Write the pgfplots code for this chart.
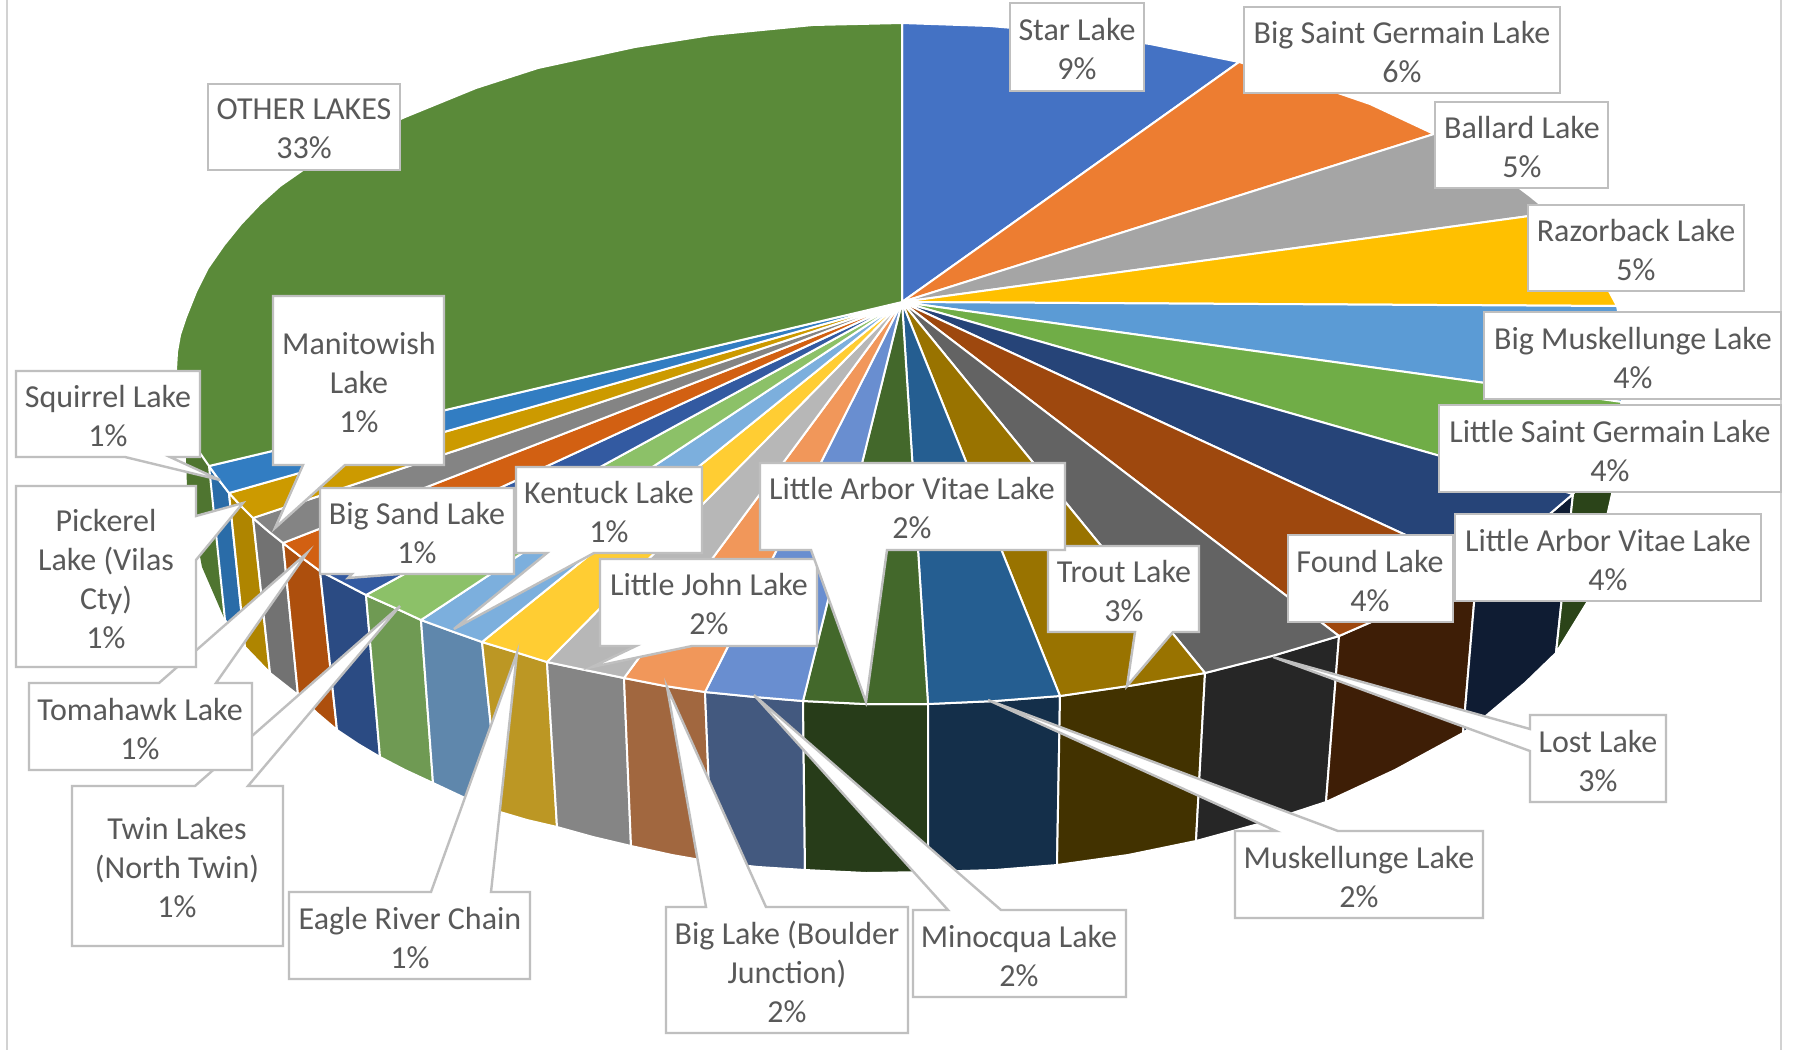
\documentclass[border=0pt]{standalone}
\usepackage{fontspec}
\setmainfont{Carlito}
\usepackage{pgfplots}
\pgfplotsset{compat=1.18}

% top faces
\definecolor{tA}{HTML}{4472C4}
\definecolor{tB}{HTML}{ED7D31}
\definecolor{tC}{HTML}{A5A5A5}
\definecolor{tD}{HTML}{FFC000}
\definecolor{tE}{HTML}{5B9BD5}
\definecolor{tF}{HTML}{70AD47}
\definecolor{tG}{HTML}{264478}
\definecolor{tH}{HTML}{9E480E}
\definecolor{tI}{HTML}{636363}
\definecolor{tJ}{HTML}{997300}
\definecolor{tK}{HTML}{255E91}
\definecolor{tL}{HTML}{43682B}
\definecolor{tM}{HTML}{698ED0}
\definecolor{tN}{HTML}{F1975A}
\definecolor{tO}{HTML}{B7B7B7}
\definecolor{tP}{HTML}{FFCD33}
\definecolor{tQ}{HTML}{7CAFDD}
\definecolor{tR}{HTML}{8CC168}
\definecolor{tS}{HTML}{335AA1}
\definecolor{tT}{HTML}{D26012}
\definecolor{tU}{HTML}{848484}
\definecolor{tV}{HTML}{CC9A00}
\definecolor{tW}{HTML}{327DC2}
\definecolor{tX}{HTML}{5A8A39}
% side walls
\definecolor{wX}{HTML}{4F7530}
\definecolor{wXr}{HTML}{2B4419}
\definecolor{wW}{HTML}{2A6CA8}
\definecolor{wV}{HTML}{AF8500}
\definecolor{wU}{HTML}{727272}
\definecolor{wT}{HTML}{AD4F0D}
\definecolor{wS}{HTML}{2B4B83}
\definecolor{wR}{HTML}{6F9A53}
\definecolor{wQ}{HTML}{5F87AC}
\definecolor{wP}{HTML}{BC9724}
\definecolor{wO}{HTML}{858585}
\definecolor{wN}{HTML}{A1673F}
\definecolor{wM}{HTML}{43597F}
\definecolor{wL}{HTML}{273C19}
\definecolor{wK}{HTML}{142F4A}
\definecolor{wJ}{HTML}{423200}
\definecolor{wI}{HTML}{262626}
\definecolor{wH}{HTML}{3E1E06}
\definecolor{wG}{HTML}{0F1C33}
\definecolor{lbl}{HTML}{595959}
\definecolor{edge}{HTML}{BFBFBF}

\tikzset{
    wedge/.style={draw=white, line width=2pt, line join=round},
    call/.style={fill=white, draw=edge, line width=2.4pt, line join=miter},
    lab/.style={text=lbl, font=\fontsize{32}{39}\selectfont, align=center, inner sep=0pt, yshift=-2pt},
}

\begin{document}
\begin{tikzpicture}
\begin{axis}[
    scale only axis,
    width=1794pt,
    height=1050pt,
    xmin=0, xmax=1794,
    ymin=0, ymax=1050,
    y dir=reverse,
    axis lines=none,
]
% page background and the two frame lines
\addplot[fill=white, draw=none] coordinates {(0,0) (1794,0) (1794,1050) (0,1050)} --cycle;
\addplot[draw=edge!70, line width=2pt] coordinates {(7,0) (7,1050)};
\addplot[draw=edge!70, line width=2pt] coordinates {(1781,0) (1781,1050)};

% walls
\addplot[fill=wX, draw=none] coordinates {(192,445) (200,453) (209,466) (225,620) (202,567) (195,530) (187,487) (186,458)} --cycle;
\addplot[wedge, fill=wW] coordinates {(229,493) (219,480) (209,466) (225,620) (245,647)} --cycle;
\addplot[wedge, fill=wV] coordinates {(253,518) (241,506) (229,493) (245,647) (270,673)} --cycle;
\addplot[wedge, fill=wU] coordinates {(283,543) (268,531) (253,518) (270,673) (298,695)} --cycle;
\addplot[wedge, fill=wT] coordinates {(320,571) (301,557) (283,543) (298,695) (317,713) (337,730)} --cycle;
\addplot[wedge, fill=wS] coordinates {(366,595) (343,583) (320,571) (337,730) (358,744) (380,757)} --cycle;
\addplot[wedge, fill=wR] coordinates {(421,620) (393,607) (366,595) (380,757) (405,770) (433,783)} --cycle;
\addplot[wedge, fill=wQ] coordinates {(482,642) (451,631) (421,620) (433,783) (465,798) (500,812)} --cycle;
\addplot[wedge, fill=wP] coordinates {(547,662) (515,652) (482,642) (500,812) (527,820) (557,827)} --cycle;
\addplot[wedge, fill=wO] coordinates {(624,678) (585,670) (547,662) (557,827) (593,837) (631,846)} --cycle;
\addplot[wedge, fill=wN] coordinates {(705,692) (665,686) (624,678) (631,846) (672,855) (712,862)} --cycle;
\addplot[wedge, fill=wM] coordinates {(803,701) (755,697) (705,692) (712,862) (758,867) (805,870)} --cycle;
\addplot[wedge, fill=wL] coordinates {(928,704) (865,704) (803,701) (805,870) (866,873) (928,872)} --cycle;
\addplot[wedge, fill=wK] coordinates {(1060,696) (995,701) (928,704) (928,872) (995,870) (1057,865)} --cycle;
\addplot[wedge, fill=wJ] coordinates {(1205,673) (1135,685) (1060,696) (1057,865) (1128,855) (1196,841)} --cycle;
\addplot[wedge, fill=wI] coordinates {(1339,636) (1272,656) (1205,673) (1196,841) (1262,823) (1326,802)} --cycle;
\addplot[wedge, fill=wH] coordinates {(1477,568) (1430,596) (1385,616) (1339,636) (1326,802) (1395,770) (1463,733)} --cycle;
\addplot[wedge, fill=wG] coordinates {(1573,494) (1545,518) (1510,547) (1477,568) (1463,733) (1487,715) (1525,683) (1556,653)} --cycle;
\addplot[wedge, fill=wXr] coordinates {(1622,402) (1610,432) (1590,467) (1573,494) (1556,653) (1588,601) (1612,494) (1619,445)} --cycle;

% top faces, clockwise from twelve o'clock
\addplot[wedge, fill=tA] coordinates {(902,302) (902,23) (990,26) (1070,33) (1150,44) (1239,62)} --cycle;
\addplot[wedge, fill=tB] coordinates {(902,302) (1239,62) (1300,80) (1370,104) (1434,134)} --cycle;
\addplot[wedge, fill=tC] coordinates {(902,302) (1434,134) (1490,166) (1530,196) (1551,213)} --cycle;
\addplot[wedge, fill=tD] coordinates {(902,302) (1551,213) (1590,259) (1610,293) (1617,306)} --cycle;
\addplot[wedge, fill=tE] coordinates {(902,302) (1617,306) (1624,340) (1625,365) (1622,402)} --cycle;
\addplot[wedge, fill=tF] coordinates {(902,302) (1622,402) (1610,432) (1590,467) (1573,494)} --cycle;
\addplot[wedge, fill=tG] coordinates {(902,302) (1573,494) (1545,518) (1510,547) (1477,568)} --cycle;
\addplot[wedge, fill=tH] coordinates {(902,302) (1477,568) (1430,596) (1385,616) (1339,636)} --cycle;
\addplot[wedge, fill=tI] coordinates {(902,302) (1339,636) (1272,656) (1205,673)} --cycle;
\addplot[wedge, fill=tJ] coordinates {(902,302) (1205,673) (1135,685) (1060,696)} --cycle;
\addplot[wedge, fill=tK] coordinates {(902,302) (1060,696) (995,701) (928,704)} --cycle;
\addplot[wedge, fill=tL] coordinates {(902,302) (928,704) (865,704) (803,701)} --cycle;
\addplot[wedge, fill=tM] coordinates {(902,302) (803,701) (755,697) (705,692)} --cycle;
\addplot[wedge, fill=tN] coordinates {(902,302) (705,692) (665,686) (624,678)} --cycle;
\addplot[wedge, fill=tO] coordinates {(902,302) (624,678) (585,670) (547,662)} --cycle;
\addplot[wedge, fill=tP] coordinates {(902,302) (547,662) (515,652) (482,642)} --cycle;
\addplot[wedge, fill=tQ] coordinates {(902,302) (482,642) (451,631) (421,620)} --cycle;
\addplot[wedge, fill=tR] coordinates {(902,302) (421,620) (393,607) (366,595)} --cycle;
\addplot[wedge, fill=tS] coordinates {(902,302) (366,595) (343,583) (320,571)} --cycle;
\addplot[wedge, fill=tT] coordinates {(902,302) (320,571) (301,557) (283,543)} --cycle;
\addplot[wedge, fill=tU] coordinates {(902,302) (283,543) (268,531) (253,518)} --cycle;
\addplot[wedge, fill=tV] coordinates {(902,302) (253,518) (241,506) (229,493)} --cycle;
\addplot[wedge, fill=tW] coordinates {(902,302) (229,493) (219,480) (209,466)} --cycle;
\addplot[wedge, fill=tX] coordinates {(902,302) (209,466) (200,453) (186,420) (180,395) (176,370) (177,352) (180,335) (186,317) (196,292) (208,268) (224,245) (241,224) (260,204) (280,186) (303,170) (350,142) (405,117) (476,88) (538,68) (635,47) (711,35) (813,25) (902,23)} --cycle;

% callouts
\addplot[call] coordinates {(1010,3) (1144,3) (1144,91) (1010,91)} --cycle;
\addplot[call] coordinates {(1244,7) (1560,7) (1560,93) (1244,93)} --cycle;
\addplot[call] coordinates {(1435,102) (1608,102) (1608,188) (1435,188)} --cycle;
\addplot[call] coordinates {(1528,205) (1744,205) (1744,291) (1528,291)} --cycle;
\addplot[call] coordinates {(1484,312) (1781,312) (1781,399) (1484,399)} --cycle;
\addplot[call] coordinates {(1439,405) (1781,405) (1781,492) (1439,492)} --cycle;
\addplot[call] coordinates {(1455,514) (1761,514) (1761,601) (1455,601)} --cycle;
\addplot[call] coordinates {(1288,535) (1453,535) (1453,622) (1288,622)} --cycle;
\addplot[call] coordinates {(1530,715) (1666,715) (1666,802) (1530,802) (1530,751) (1273,657) (1530,729)} --cycle;
\addplot[call] coordinates {(1235,831) (1276,831) (988,700) (1338,831) (1483,831) (1483,918) (1235,918)} --cycle;
\addplot[call] coordinates {(913,910) (948,910) (754,695) (1001,910) (1126,910) (1126,997) (913,997)} --cycle;
\addplot[call] coordinates {(666,907) (706,907) (667,687) (766,907) (908,907) (908,1033) (666,1033)} --cycle;
\addplot[call] coordinates {(289,892) (431,892) (517,653) (491,892) (530,892) (530,979) (289,979)} --cycle;
\addplot[call] coordinates {(72,786) (195,786) (400,606) (248,786) (283,786) (283,946) (72,946)} --cycle;
\addplot[call] coordinates {(29,683) (159,683) (307,553) (216,683) (252,683) (252,770) (29,770)} --cycle;
\addplot[call] coordinates {(16,486) (196,486) (196,516) (243,503) (196,560) (196,667) (16,667)} --cycle;
\addplot[call] coordinates {(16,371) (200,371) (200,457) (170,457) (220,480) (125,457) (16,457)} --cycle;
\addplot[call] coordinates {(273,296) (444,296) (444,465) (345,465) (275,528) (303,465) (273,465)} --cycle;
\addplot[call] coordinates {(320,488) (514,488) (514,574) (400,574) (348,578) (352,574) (320,574)} --cycle;
\addplot[call] coordinates {(516,467) (702,467) (702,553) (594,553) (454,629) (547,553) (516,553)} --cycle;
\addplot[call] coordinates {(600,559) (817,559) (817,646) (692,646) (592,667) (636,646) (600,646)} --cycle;
\addplot[call] coordinates {(1048,546) (1199,546) (1199,632) (1173,632) (1127,686) (1135,632) (1048,632)} --cycle;
\addplot[call] coordinates {(760,463) (1065,463) (1065,550) (887,550) (866,702) (811,550) (760,550)} --cycle;
\addplot[call] coordinates {(208,84) (400,84) (400,170) (208,170)} --cycle;

% label text
\node[lab] at (axis cs:1077,47) {Star Lake\\9\%};
\node[lab] at (axis cs:1402,50) {Big Saint Germain Lake\\6\%};
\node[lab] at (axis cs:1522,145) {Ballard Lake\\5\%};
\node[lab] at (axis cs:1636,248) {Razorback Lake\\5\%};
\node[lab] at (axis cs:1633,356) {Big Muskellunge Lake\\4\%};
\node[lab] at (axis cs:1610,449) {Little Saint Germain Lake\\4\%};
\node[lab] at (axis cs:1608,558) {Little Arbor Vitae Lake\\4\%};
\node[lab] at (axis cs:1370,579) {Found Lake\\4\%};
\node[lab] at (axis cs:1598,759) {Lost Lake\\3\%};
\node[lab] at (axis cs:1359,875) {Muskellunge Lake\\2\%};
\node[lab] at (axis cs:1019,954) {Minocqua Lake\\2\%};
\node[lab] at (axis cs:787,970) {Big Lake (Boulder\\Junction)\\2\%};
\node[lab] at (axis cs:410,936) {Eagle River Chain\\1\%};
\node[lab] at (axis cs:177,866) {Twin Lakes\\(North Twin)\\1\%};
\node[lab] at (axis cs:140,727) {Tomahawk Lake\\1\%};
\node[lab] at (axis cs:106,577) {Pickerel\\Lake (Vilas\\Cty)\\1\%};
\node[lab] at (axis cs:108,414) {Squirrel Lake\\1\%};
\node[lab] at (axis cs:359,381) {Manitowish\\Lake\\1\%};
\node[lab] at (axis cs:417,531) {Big Sand Lake\\1\%};
\node[lab] at (axis cs:609,510) {Kentuck Lake\\1\%};
\node[lab] at (axis cs:709,602) {Little John Lake\\2\%};
\node[lab] at (axis cs:1124,589) {Trout Lake\\3\%};
\node[lab] at (axis cs:912,506) {Little Arbor Vitae Lake\\2\%};
\node[lab] at (axis cs:304,127) {OTHER LAKES\\33\%};
\end{axis}
\end{tikzpicture}
\end{document}
